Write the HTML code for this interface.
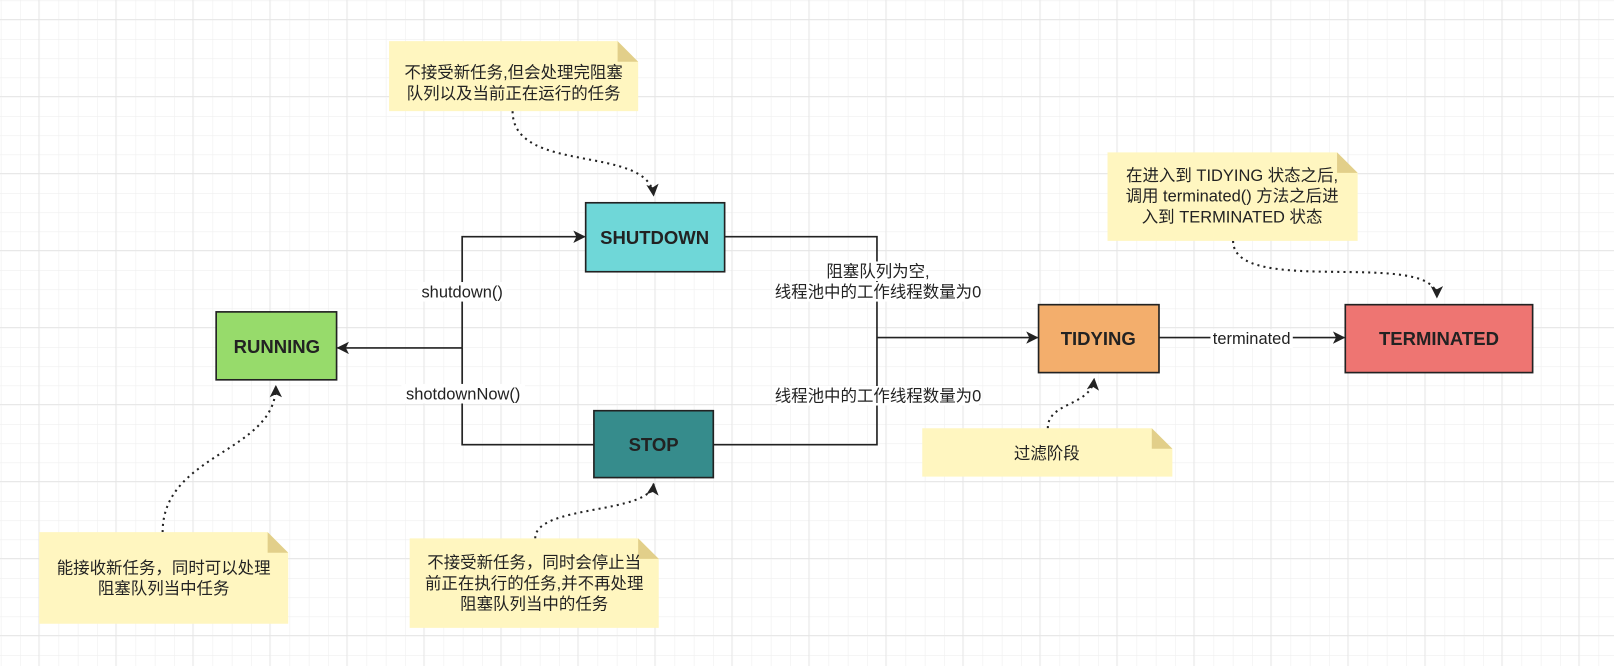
<!DOCTYPE html>
<html><head><meta charset="utf-8"><style>
html,body{margin:0;padding:0;background:#fff}
svg{display:block}
text{font-family:"Liberation Sans","Noto Sans CJK SC",sans-serif;fill:#222}
.b{font-weight:bold;font-size:18px;text-anchor:middle}
.l{font-size:16px;text-anchor:middle}
</style></head><body>
<svg width="1614" height="666" viewBox="0 0 1614 666" xmlns="http://www.w3.org/2000/svg">
<defs>
<pattern id="g" x="0.8" y="0.5" width="19.25" height="19.25" patternUnits="userSpaceOnUse">
<path d="M0 0V19.25M0 0H19.25" stroke="#efefef" stroke-width="1.2" fill="none"/>
</pattern>
<pattern id="G" x="38.5" y="19" width="77" height="77" patternUnits="userSpaceOnUse">
<path d="M0 0V77M0 0H77" stroke="#e4e4e4" stroke-width="1.4" fill="none"/>
</pattern>
<marker id="a" markerWidth="12" markerHeight="12" refX="11" refY="6" orient="auto" markerUnits="userSpaceOnUse">
<path d="M0 0L12 6L0 12L3 6Z" fill="#222"/>
</marker>
</defs>
<rect width="1614" height="666" fill="url(#g)"/>
<rect width="1614" height="666" fill="url(#G)"/>

<g transform="scale(1.0293)">
<g stroke="#222" stroke-width="1.6" fill="none">
<path d="M449 338V230H568" marker-end="url(#a)"/>
<path d="M449 338V432H577"/>
<path d="M449 338H328" marker-end="url(#a)"/>
<path d="M704 230H852V432H693"/>
<path d="M852 328H1008" marker-end="url(#a)"/>
<path d="M1126 328H1306" marker-end="url(#a)"/>
</g>
<g stroke="#222" stroke-width="2" fill="none" stroke-dasharray="2 4">
<path d="M498 108C498 170 630 140 635 190" marker-end="url(#a)"/>
<path d="M1198 234C1198 290 1396 240 1396 289" marker-end="url(#a)"/>
<path d="M1018 416C1018 390 1060 395 1063 368" marker-end="url(#a)"/>
<path d="M158 517C158 440 268 440 268 375" marker-end="url(#a)"/>
<path d="M520 523C520 490 632 500 635 470" marker-end="url(#a)"/>
</g>

<rect x="406" y="274" width="86" height="19" fill="#fff"/>
<text class="l" x="449" y="289">shutdown()</text>
<rect x="390" y="373" width="120" height="19" fill="#fff"/>
<text class="l" x="450" y="388">shotdownNow()</text>
<rect x="804" y="254" width="98" height="19" fill="#fff"/>
<text class="l" x="853" y="269">阻塞队列为空,</text>
<rect x="755" y="274" width="196" height="19" fill="#fff"/>
<text class="l" x="853" y="289">线程池中的工作线程数量为0</text>
<rect x="755" y="375" width="196" height="19" fill="#fff"/>
<text class="l" x="853" y="390">线程池中的工作线程数量为0</text>
<rect x="1176" y="320" width="80" height="18" fill="#fff"/>
<text class="l" x="1216" y="334">terminated</text>

<g stroke="#222" stroke-width="1.6">
<rect x="569" y="197" width="135" height="67" fill="#6fd7d8"/>
<rect x="210" y="303" width="117" height="66" fill="#97db6b"/>
<rect x="577" y="399" width="116" height="65" fill="#368c8c"/>
<rect x="1009" y="296" width="117" height="66" fill="#f3ae6c"/>
<rect x="1307" y="296" width="182" height="66" fill="#ee7572"/>
</g>
<text class="b" x="636" y="237">SHUTDOWN</text>
<text class="b" x="269" y="343">RUNNING</text>
<text class="b" x="635" y="438">STOP</text>
<text class="b" x="1067" y="335">TIDYING</text>
<text class="b" x="1398" y="335">TERMINATED</text>

<g>
<path d="M378 40H600L620 60V108H378Z" fill="#fff6c0"/><path d="M600 40L620 60H600Z" fill="#e2cf8a"/>
<path d="M1076 148H1299L1319 168V234H1076Z" fill="#fff6c0"/><path d="M1299 148L1319 168H1299Z" fill="#e2cf8a"/>
<path d="M896 416H1119L1139 436V463H896Z" fill="#fff6c0"/><path d="M1119 416L1139 436H1119Z" fill="#e2cf8a"/>
<path d="M38 517H260L280 537V606H38Z" fill="#fff6c0"/><path d="M260 517L280 537H260Z" fill="#e2cf8a"/>
<path d="M398 523H620L640 543V610H398Z" fill="#fff6c0"/><path d="M620 523L640 543H620Z" fill="#e2cf8a"/>
</g>
<text class="l" x="499" y="76">不接受新任务,但会处理完阻塞</text>
<text class="l" x="499" y="96">队列以及当前正在运行的任务</text>
<text class="l" x="1197" y="176">在进入到 TIDYING 状态之后,</text>
<text class="l" x="1197" y="196">调用 terminated() 方法之后进</text>
<text class="l" x="1197" y="216">入到 TERMINATED 状态</text>
<text class="l" x="1017" y="446">过滤阶段</text>
<text class="l" x="159" y="557">能接收新任务，同时可以处理</text>
<text class="l" x="159" y="577">阻塞队列当中任务</text>
<text class="l" x="519" y="552">不接受新任务，同时会停止当</text>
<text class="l" x="519" y="572">前正在执行的任务,并不再处理</text>
<text class="l" x="519" y="592">阻塞队列当中的任务</text>
</g>
</svg>
</body></html>
